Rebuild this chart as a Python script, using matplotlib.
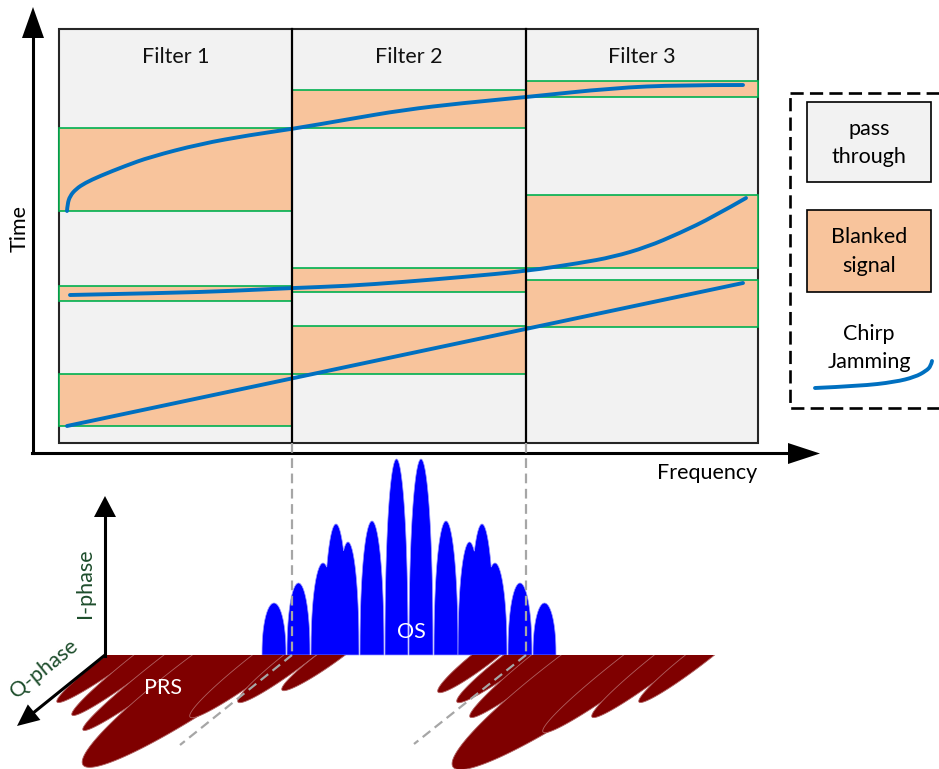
import numpy as np
import matplotlib
matplotlib.use('Agg')
import matplotlib.pyplot as plt
from matplotlib.patches import Rectangle, Polygon, PathPatch
from matplotlib.path import Path

plt.rcParams['font.family'] = ['Lato', 'DejaVu Sans']
plt.rcParams['lines.scale_dashes'] = False

# ---- top panel (figure pixel coords, y grows downward) ----
filter_edges = [59, 292, 526, 758]
filter_names = ['Filter 1', 'Filter 2', 'Filter 3']
frame_top, frame_bottom = 29, 443

# blanked time windows per filter, (top, bottom)
blanked_f1 = [(128, 211), (286, 301), (374, 426)]
blanked_f2 = [(90, 128), (268, 292), (326, 374)]
blanked_f3 = [(81, 97), (195, 268), (280, 327)]

# chirp jamming sweeps
chirp_a_x = [67, 67.5, 70, 76, 85, 100, 125, 150, 200, 250, 292, 350, 403, 463, 527, 613, 680, 743]
chirp_a_y = [211, 204, 196, 189, 183, 176, 166, 157, 144, 135, 129, 119, 110, 103, 97, 88, 85, 85]
chirp_b_x = [70, 167, 230, 292, 347, 403, 463, 527, 580, 613, 647, 680, 713, 746]
chirp_b_y = [295, 293, 291, 288, 286, 282, 277, 271, 263, 257, 247, 233, 217, 198]
chirp_c_x = [67, 743]
chirp_c_y = [426, 283]
legend_chirp_x = [815, 860, 895, 915, 926, 931, 932]
legend_chirp_y = [388, 386, 382, 377, 371, 366, 361]

# legend text lines (text, y)
legend_lines = [('pass', 129), ('through', 157), ('Blanked', 237), ('signal', 266),
                ('Chirp', 334), ('Jamming', 362)]

# ---- bottom panel ----
base_y = 655
# OS spectrum lobes: (left, right, top) ; lobes in one list overlap
os_lobes = [
    [(262, 286, 603)],
    [(287, 310, 583)],
    [(311, 335, 563), (324, 348, 524), (337, 359, 542)],
    [(360, 384, 521)],
    [(385, 408, 459)],
    [(409, 433, 459)],
    [(434, 458, 521)],
    [(458, 481, 542), (470, 494, 524), (483, 507, 563)],
    [(508, 532, 583)],
    [(533, 556, 603)],
]
# PRS ribbons: lower-left tip, centre x on baseline, half width
prs_tips = [(57, 702), (72, 715), (83, 730), (83, 765), (190, 717), (238, 702), (282, 690),
            (438, 692), (457, 702), (470, 717), (453, 767), (543, 732), (592, 717), (639, 702)]
prs_center_x = [122, 150, 182, 240, 272, 300, 331, 486, 520, 549, 612, 645, 672, 700]
prs_halfw = [9, 10, 11, 28, 12, 10, 8.5, 9, 10, 11, 30, 13, 11, 9]

blue = '#0070C0'
peach = '#F8C49C'
green = '#00B050'
dkgreen = '#1D4D2B'
fs = 15.5


def smooth(xs, ys):
    # quadratic bezier through midpoints, read points act as control points
    p = np.column_stack([xs, ys]).astype(float)
    if len(p) < 3:
        return Path(p)
    verts = [p[0]]
    codes = [Path.MOVETO]
    for i in range(1, len(p) - 1):
        end = p[i + 1] if i == len(p) - 2 else (p[i] + p[i + 1]) / 2
        verts += [p[i], end]
        codes += [Path.CURVE3, Path.CURVE3]
    return Path(verts, codes)


fig = plt.figure(figsize=(9.39, 7.69), dpi=100)
ax = fig.add_axes([0, 0, 1, 1])
ax.set_xlim(0, 939)
ax.set_ylim(769, 0)
ax.axis('off')

# frame
ax.add_patch(Rectangle((filter_edges[0], frame_top), filter_edges[-1] - filter_edges[0],
                       frame_bottom - frame_top, fc='#F2F2F2', ec='#262626', lw=1.5))
for i, bands in enumerate([blanked_f1, blanked_f2, blanked_f3]):
    x0, x1 = filter_edges[i], filter_edges[i + 1]
    for top, bot in bands:
        ax.add_patch(Rectangle((x0, top), x1 - x0, bot - top, fc=peach, ec=green, lw=1.2))
    ax.text((x0 + x1) / 2, 57, filter_names[i], ha='center', va='center', fontsize=fs, color='#111')
for x in filter_edges[1:-1]:
    ax.plot([x, x], [frame_top, frame_bottom], color='black', lw=1.6)

for xs, ys in [(chirp_a_x, chirp_a_y), (chirp_b_x, chirp_b_y), (chirp_c_x, chirp_c_y)]:
    ax.add_patch(PathPatch(smooth(xs, ys), fc='none', ec=blue, lw=2.8, capstyle='round'))

# axes arrows
ax.plot([33, 33], [453, 36], color='black', lw=2.2)
ax.add_patch(Polygon([(22, 38), (44, 38), (33, 7)], closed=True, fc='black', ec='none'))
ax.plot([32, 790], [453, 453], color='black', lw=2.2)
ax.add_patch(Polygon([(788, 443), (788, 464), (820, 453.5)], closed=True, fc='black', ec='none'))
ax.text(20, 228, 'Time', rotation=90, ha='center', va='center', fontsize=fs)
ax.text(707, 473, 'Frequency', ha='center', va='center', fontsize=fs)

# legend
ax.add_patch(Rectangle((790, 93), 170, 315, fc='none', ec='black', lw=1.9,
                       ls=(0, (9.5, 4.5))))
ax.add_patch(Rectangle((807, 102), 124, 80, fc='#F2F2F2', ec='black', lw=1.2))
ax.add_patch(Rectangle((807, 210), 124, 82, fc=peach, ec='black', lw=1.2))
for txt, y in legend_lines:
    ax.text(869, y, txt, ha='center', va='center', fontsize=fs)
ax.add_patch(PathPatch(smooth(legend_chirp_x, legend_chirp_y), fc='none', ec=blue, lw=2.8,
                       capstyle='round'))

# OS lobes
for grp in os_lobes:
    x0 = min(g[0] for g in grp)
    x1 = max(g[1] for g in grp)
    xs = np.linspace(x0, x1, 300)
    ys = np.full_like(xs, float(base_y))
    for l, r, top in grp:
        c, w = (l + r) / 2, (r - l) / 2
        u = np.clip((xs - c) / w, -1, 1)
        h = (base_y - top) * (1 - u ** 2) ** 0.45
        h[np.abs(xs - c) > w] = 0
        ys = np.minimum(ys, base_y - h)
    pts = np.column_stack([np.r_[x0, xs, x1], np.r_[base_y, ys, base_y]])
    ax.add_patch(Polygon(pts, closed=True, fc='#0000FF', ec='#9a9aff', lw=0.5))
ax.text(411, 632, 'OS', ha='center', va='center', color='white', fontsize=fs)

# PRS ribbons
t = np.linspace(0, 2 * np.pi, 200)
for (tx, ty), cx, b in zip(prs_tips, prs_center_x, prs_halfw):
    v = np.array([cx - tx, base_y - ty], dtype=float)
    a = np.hypot(*v)
    u = v / a
    n = np.array([-u[1], u[0]])
    pts = np.array([cx, base_y]) + np.outer(a * np.cos(t), u) + np.outer(b * np.sin(t), n)
    p = Polygon(pts, closed=True, fc='#7F0000', ec='#b06060', lw=0.6)
    ax.add_patch(p)
    p.set_clip_path(Rectangle((0, base_y), 939, 120, transform=ax.transData))
ax.text(163, 688, 'PRS', ha='center', va='center', color='white', fontsize=fs)

# I / Q axes
ax.plot([105, 105], [656, 515], color='black', lw=2.2)
ax.add_patch(Polygon([(94, 517), (116, 517), (105, 496)], closed=True, fc='black', ec='none'))
tip = np.array([17.0, 726.0])
d = np.array([-88.0, 71.0]); d /= np.hypot(*d)
nrm = np.array([-d[1], d[0]])
hb = tip - 22 * d
ax.plot([105, hb[0]], [655, hb[1]], color='black', lw=2.2)
ax.add_patch(Polygon([tip, hb + 10 * nrm, hb - 10 * nrm], closed=True, fc='black', ec='none'))
ax.text(85, 583, 'I-phase', rotation=90, ha='center', va='center', color=dkgreen, fontsize=fs)
ax.text(44, 669, 'Q-phase', rotation=39, ha='center', va='center', color=dkgreen, fontsize=fs,
        rotation_mode='anchor')

# dashed projection lines
for x, xe, ye in [(292, 180, 745), (526, 414, 744)]:
    ax.plot([x, x], [frame_bottom, base_y], color='#A6A6A6', lw=1.6, dashes=(7, 4))
    ax.plot([x, xe], [base_y, ye], color='#A6A6A6', lw=1.6, dashes=(7, 4))

fig.savefig('out.png', dpi=100, facecolor='white')
